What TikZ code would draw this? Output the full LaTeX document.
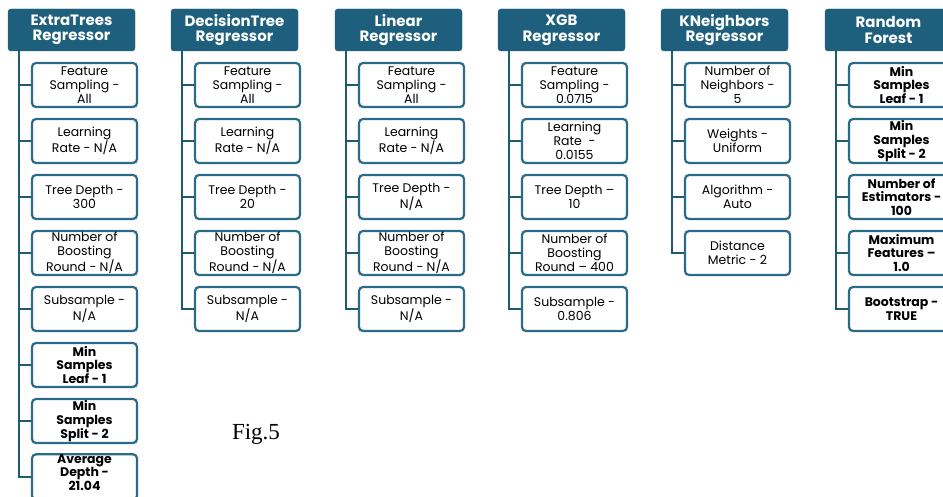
\documentclass[tikz,border=0pt]{standalone}
\usepackage{fontspec}
\setmainfont{Poppins}
\newfontfamily\figfont{Liberation Serif}
\usepackage{tikz}
\usetikzlibrary{positioning}

\definecolor{headblue}{HTML}{1D5F7C}
\definecolor{boxblue}{HTML}{2A6B88}
\definecolor{lineblue}{HTML}{1F5A74}

\tikzset{
    header/.style={fill=headblue, draw=headblue, rounded corners=3pt, minimum width=127pt, minimum height=42pt,
        text=white, align=center, inner sep=0pt, font=\fontsize{15}{15.5}\selectfont\bfseries},
    param/.style={draw=boxblue, line width=2.2pt, rounded corners=4pt, fill=white, minimum width=105pt,
        minimum height=44pt, align=center, inner sep=0pt, font=\fontsize{12.5}{13.8}\selectfont},
    boldparam/.style={param, font=\fontsize{12.5}{13.8}\selectfont\bfseries},
    branch/.style={draw=lineblue, line width=2.6pt}
}

\begin{document}
\begin{tikzpicture}[x=1pt, y=-1pt]
    \useasboundingbox (0,0) rectangle (943,497);
    \clip (0,0) rectangle (943,497);

    % ExtraTrees
    \node[header] (et) at (71.5,30) {ExtraTrees\\Regressor};
    \node[param] (et1) at (84.5,85) {Feature\\Sampling -\\All};
    \node[param] (et2) at (84.5,141) {Learning\\Rate - N/A};
    \node[param] (et3) at (84.5,197) {Tree Depth -\\300};
    \node[param] (et4) at (84.5,253) {Number of\\Boosting\\Round - N/A};
    \node[param] (et5) at (84.5,309) {Subsample -\\N/A};
    \node[boldparam] (et6) at (84.5,365) {Min\\Samples\\Leaf - 1};
    \node[boldparam] (et7) at (84.5,421) {Min\\Samples\\Split - 2};
    \node[boldparam, text depth=9pt] (et8) at (84.5,477) {Average\\Depth -\\21.04};
    \coordinate (etr) at (19,50);
    \draw[branch] (etr) |- (et8.west);
    \foreach \i in {1,...,7} \draw[branch] (etr |- et\i.west) -- (et\i.west);

    % DecisionTree
    \node[header] (dt) at (234.5,30) {DecisionTree\\Regressor};
    \node[param] (dt1) at (247.5,85) {Feature\\Sampling -\\All};
    \node[param] (dt2) at (247.5,141) {Learning\\Rate - N/A};
    \node[param] (dt3) at (247.5,197) {Tree Depth -\\20};
    \node[param] (dt4) at (247.5,253) {Number of\\Boosting\\Round - N/A};
    \node[param] (dt5) at (247.5,309) {Subsample -\\N/A};
    \coordinate (dtr) at (182,50);
    \draw[branch] (dtr) |- (dt5.west);
    \foreach \i in {1,...,4} \draw[branch] (dtr |- dt\i.west) -- (dt\i.west);

    % Linear
    \node[header] (lr) at (398.5,30) {Linear\\Regressor};
    \node[param] (lr1) at (411.5,85) {Feature\\Sampling -\\All};
    \node[param] (lr2) at (411.5,141) {Learning\\Rate - N/A};
    \node[param] (lr3) at (411.5,197) {Tree Depth -\\N/A};
    \node[param] (lr4) at (411.5,253) {Number of\\Boosting\\Round - N/A};
    \node[param] (lr5) at (411.5,309) {Subsample -\\N/A};
    \coordinate (lrr) at (346,50);
    \draw[branch] (lrr) |- (lr5.west);
    \foreach \i in {1,...,4} \draw[branch] (lrr |- lr\i.west) -- (lr\i.west);

    % XGB
    \node[header] (xgb) at (561.5,30) {XGB\\Regressor};
    \node[param] (xgb1) at (574.5,85) {Feature\\Sampling -\\0.0715};
    \node[param] (xgb2) at (574.5,141) {Learning\\Rate\ \ -\\0.0155};
    \node[param] (xgb3) at (574.5,197) {Tree Depth --\\10};
    \node[param] (xgb4) at (574.5,253) {Number of\\Boosting\\Round -- 400};
    \node[param] (xgb5) at (574.5,309) {Subsample -\\0.806};
    \coordinate (xgbr) at (509,50);
    \draw[branch] (xgbr) |- (xgb5.west);
    \foreach \i in {1,...,4} \draw[branch] (xgbr |- xgb\i.west) -- (xgb\i.west);

    % KNeighbors
    \node[header] (knn) at (724.5,30) {KNeighbors\\Regressor};
    \node[param] (knn1) at (737.5,85) {Number of\\Neighbors -\\5};
    \node[param] (knn2) at (737.5,141) {Weights -\\Uniform};
    \node[param] (knn3) at (737.5,197) {Algorithm -\\Auto};
    \node[param] (knn4) at (737.5,253) {Distance\\Metric - 2};
    \coordinate (knnr) at (672,50);
    \draw[branch] (knnr) |- (knn4.west);
    \foreach \i in {1,...,3} \draw[branch] (knnr |- knn\i.west) -- (knn\i.west);

    % Random Forest
    \node[header] (rf) at (888.5,30) {Random\\Forest};
    \node[boldparam] (rf1) at (901.5,85) {Min\\Samples\\Leaf - 1};
    \node[boldparam] (rf2) at (901.5,141) {Min\\Samples\\Split - 2};
    \node[boldparam] (rf3) at (901.5,197) {Number of\\Estimators -\\100};
    \node[boldparam] (rf4) at (901.5,253) {Maximum\\Features --\\1.0};
    \node[boldparam] (rf5) at (901.5,309) {Bootstrap -\\TRUE};
    \coordinate (rfr) at (836,50);
    \draw[branch] (rfr) |- (rf5.west);
    \foreach \i in {1,...,4} \draw[branch] (rfr |- rf\i.west) -- (rf\i.west);

    \node[font=\figfont\fontsize{23}{24}\selectfont] (fig) at (256,434) {Fig.5};
\end{tikzpicture}
\end{document}
